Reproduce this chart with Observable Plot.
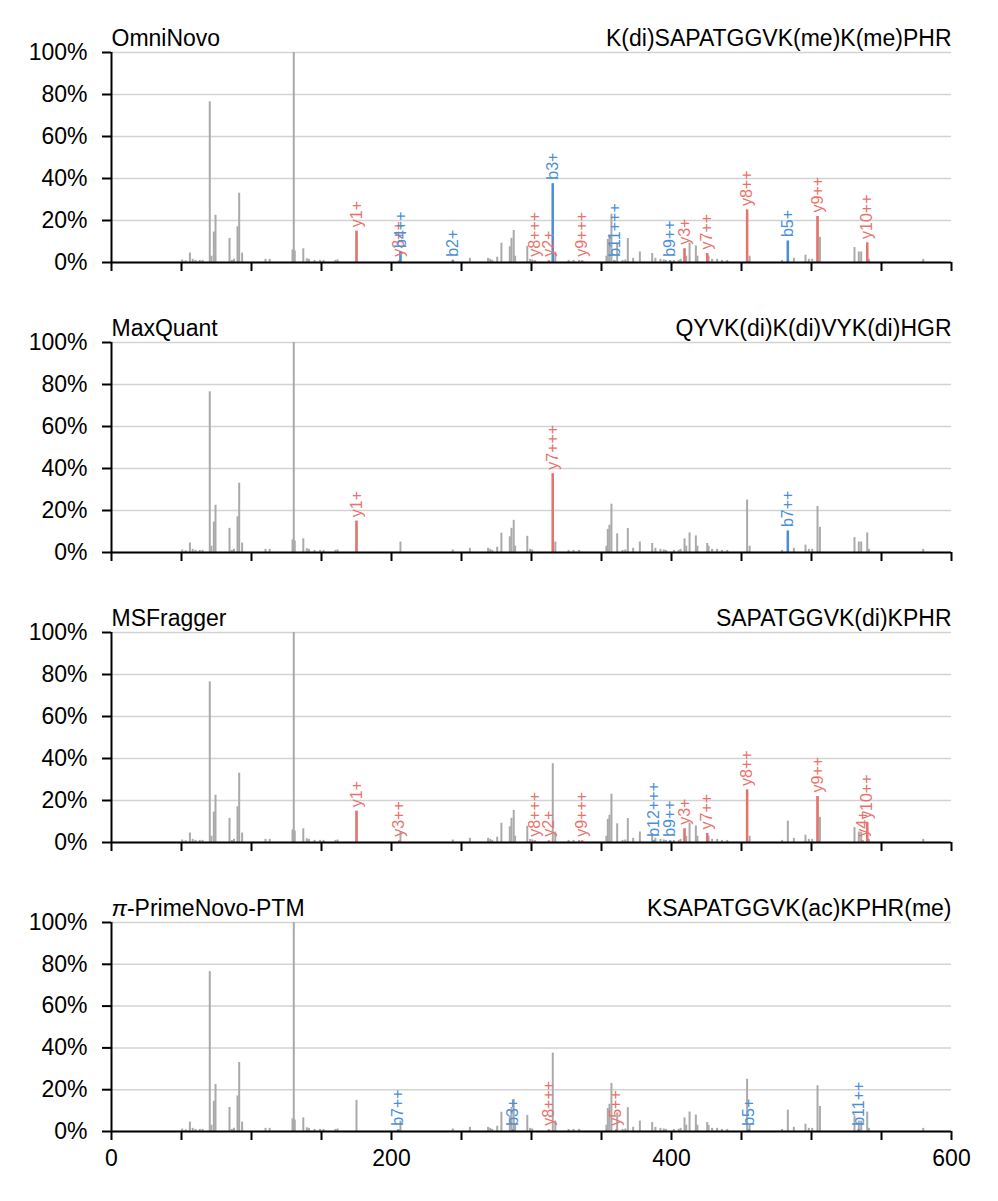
<!DOCTYPE html>
<html>
<head>
<meta charset="utf-8">
<script src="https://cdn.jsdelivr.net/npm/d3@7"></script>
<script src="https://cdn.jsdelivr.net/npm/@observablehq/plot@0.6"></script>
<style>
  html, body { margin: 0; padding: 0; background: #fff; }
  #chart svg { display: block; }
</style>
</head>
<body>
<div id="chart"></div>
<script>
// ---- spectrum (m/z, relative intensity %) ----
const spectrumMz = [50.5, 53, 56, 58, 60, 63, 65, 70.2, 71.4, 73.1, 74.3, 84.3, 86, 87.5, 90, 91.2, 93.3, 110, 113, 129.3, 130.2, 130.9, 137, 139.5, 141, 145, 149, 151.5, 160, 161.5, 175, 206.4, 243.8, 256, 269, 270.5, 272, 275.5, 278.5, 284.5, 285.7, 287.3, 288.3, 297, 299, 300.5, 315.2, 317, 326.5, 330, 334, 353.5, 354.5, 355.7, 357.1, 361.2, 365, 367, 368.8, 372.6, 377.4, 386.2, 388.5, 392.1, 394.5, 396, 401.7, 405.2, 406.5, 409.3, 410.5, 412.9, 417.4, 418.5, 425.5, 426.5, 429, 432.6, 436, 439.8, 454, 455.8, 479, 483.1, 487.4, 495.7, 498.1, 500.5, 504.3, 506, 530.7, 533.8, 535.5, 539.8, 541, 579.8];
const spectrumInt = [1.2, 0.8, 4.5, 1.5, 1, 1, 1, 76.5, 3, 14.5, 22.5, 11.5, 1, 1.5, 17, 33, 4.5, 1.5, 1.5, 6, 100, 5.5, 6.5, 1.8, 1.5, 1, 1, 1, 1, 1.2, 14.9, 5, 1.2, 2, 2, 1.5, 1, 2.5, 9.2, 7.5, 11.5, 15.3, 3, 7.7, 1.5, 1.2, 37.5, 5, 1, 1, 1, 3, 11, 13, 23, 8.9, 1, 1.2, 11.4, 2, 5, 4.3, 2, 1.5, 1.2, 1, 1, 1, 1.5, 6.5, 3, 9.3, 7.9, 3, 4.3, 3, 1.5, 1.5, 1, 1, 25, 3, 1, 10.2, 2, 3.5, 1.5, 1.5, 21.9, 12, 7.1, 5, 5, 9.3, 1.5, 1.5];

// ---- panels ----
const methods = ["OmniNovo", "MaxQuant", "MSFragger", "π-PrimeNovo-PTM"];
const peptides = ["K(di)SAPATGGVK(me)K(me)PHR", "QYVK(di)K(di)VYK(di)HGR", "SAPATGGVK(di)KPHR", "KSAPATGGVK(ac)KPHR(me)"];

// annotated ions per panel: label, m/z, intensity %
const omniNovoIons = ["y1+", "y3++", "b4++", "b2+", "y8+++", "y2+", "b3+", "y9+++", "b11+++", "b9++", "y3+", "y7++", "y8++", "b5+", "y9++", "y10++"];
const omniNovoMz   = [175, 205.4, 206.4, 243.8, 302.4, 312.4, 315.2, 336.2, 359.2, 399.0, 409.3, 425.5, 454, 483.1, 504.3, 539.8];
const omniNovoInt  = [14.9, 0.8, 5, 0.8, 0.8, 0.8, 37.5, 0.8, 0.8, 0.8, 6.5, 4.3, 25, 10.2, 21.9, 9.3];

const maxQuantIons = ["y1+", "y7+++", "b7++"];
const maxQuantMz   = [175, 315.2, 483.1];
const maxQuantInt  = [14.9, 37.5, 10.2];

const msFraggerIons = ["y1+", "y3++", "y8+++", "y2+", "y9+++", "b12+++", "b9++", "y3+", "y7++", "y8++", "y9++", "y4+", "y10++"];
const msFraggerMz   = [175, 205.5, 302.4, 312.4, 336.2, 387.4, 399.0, 409.3, 425.5, 454, 504.3, 536.5, 539.8];
const msFraggerInt  = [14.9, 0.8, 0.8, 0.8, 0.8, 0.8, 0.8, 6.5, 4.3, 25, 21.9, 0.8, 9.3];

const primeNovoIons = ["b7++", "b3+", "y8+++", "y5++", "b5+", "b11++"];
const primeNovoMz   = [204.8, 286.9, 312.4, 360.6, 455.2, 533.6];
const primeNovoInt  = [0.8, 0.8, 0.8, 0.8, 0.8, 0.8];

const xTicks = [0, 50, 100, 150, 200, 250, 300, 350, 400, 450, 500, 550, 600];
const xTickLabels = [0, 200, 400, 600];
const yTicks = [0, 20, 40, 60, 80, 100];

const RED = "#e8736c", BLUE = "#4a90d9", GRAY = "#aaaaaa";

const spectrum = spectrumMz.map((m, i) => ({mz: m, pct: spectrumInt[i]}));
const panelIons = [
  [omniNovoIons, omniNovoMz, omniNovoInt],
  [maxQuantIons, maxQuantMz, maxQuantInt],
  [msFraggerIons, msFraggerMz, msFraggerInt],
  [primeNovoIons, primeNovoMz, primeNovoInt]
].map(([ions, mzs, ints]) => ions.map((ion, i) => ({ion, mz: mzs[i], pct: ints[i], color: ion.startsWith("y") ? RED : BLUE})));

const chart = document.getElementById("chart");
methods.forEach((method, p) => {
  const bottom = p === methods.length - 1;
  const ions = panelIons[p];
  const svg = Plot.plot({
    width: 998,
    height: bottom ? 331 : 290,
    marginLeft: 111,
    marginRight: 47,
    marginTop: 52,
    marginBottom: bottom ? 70 : 28,
    style: {fontFamily: "'Liberation Sans', Arial, sans-serif", fontSize: "23px", color: "black", background: "white"},
    x: {domain: [0, 600], label: null},
    y: {domain: [0, 100], label: null},
    marks: [
      Plot.gridY(yTicks, {stroke: "#d3d3d3", strokeOpacity: 1, strokeWidth: 1.5}),
      Plot.ruleX(spectrum, {x: "mz", y1: 0, y2: "pct", stroke: GRAY, strokeWidth: 2}),
      Plot.ruleX(ions, {x: "mz", y1: 0, y2: "pct", stroke: "color", strokeWidth: 2.5}),
      Plot.text(ions, {x: "mz", y: "pct", text: "ion", fill: "color", rotate: -90, textAnchor: "start", lineAnchor: "middle", dy: -4, fontSize: 16}),
      Plot.axisY(yTicks, {label: null, tickFormat: d => d + "%", tickSize: 9, tickPadding: 15, strokeWidth: 2, fontSize: 23}),
      Plot.axisX(xTicks, {label: null, tickSize: 9, tickPadding: 9, strokeWidth: 2, fontSize: 23,
        tickFormat: d => bottom && xTickLabels.includes(d) ? String(d) : ""}),
      Plot.ruleY([0], {stroke: "black", strokeWidth: 2}),
      Plot.ruleX([0], {stroke: "black", strokeWidth: 2}),
      Plot.text([method], {frameAnchor: "top-left", textAnchor: "start", lineAnchor: "bottom", dy: -7, fontSize: 23, fill: "black"}),
      Plot.text([peptides[p]], {frameAnchor: "top-right", textAnchor: "end", lineAnchor: "bottom", dy: -7, fontSize: 23, fill: "black"})
    ]
  });
  // italic π in the method name
  d3.select(svg).selectAll("text").each(function() {
    if (this.textContent === "π-PrimeNovo-PTM") {
      const t = d3.select(this);
      t.text("");
      t.append("tspan").attr("font-style", "italic").text("π");
      t.append("tspan").text("-PrimeNovo-PTM");
    }
  });
  chart.appendChild(svg);
});
</script>
</body>
</html>
